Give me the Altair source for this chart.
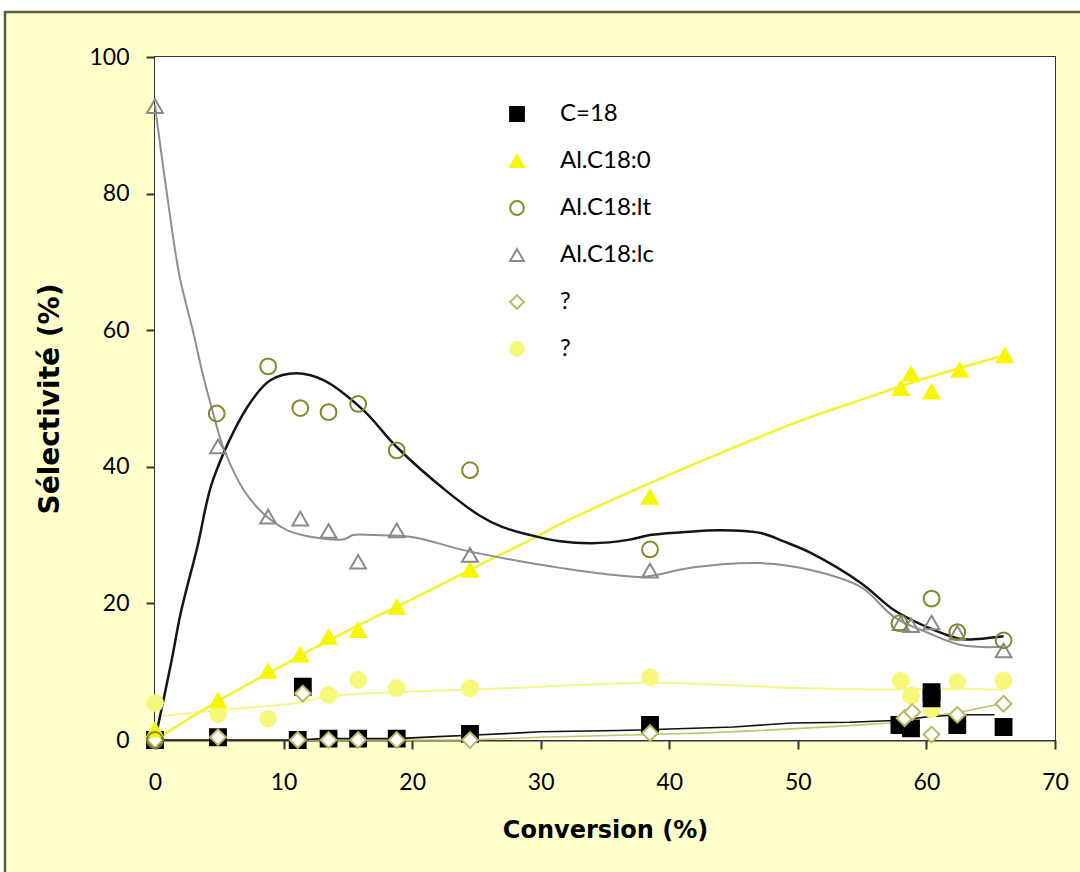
import altair as alt
import pandas as pd

# ---------------- data ----------------
SERIES = ["C=18", "Al.C18:0", "Al.C18:lt", "Al.C18:lc", "?1", "?2"]

# markers
c18_x = [0, 4.9, 11.1, 11.5, 13.5, 15.8, 18.8, 24.5, 38.5, 57.9, 58.8, 60.4, 60.4, 62.4, 66.0]
c18_y = [0, 0.4, 0, 7.8, 0.2, 0.2, 0.2, 0.9, 2.2, 2.2, 1.7, 6.1, 7.0, 2.2, 1.9]

c180_x = [0, 4.9, 8.8, 11.3, 13.5, 15.8, 18.8, 24.5, 38.5, 58.0, 58.8, 60.4, 62.6, 66.1]
c180_y = [1.5, 5.8, 10.1, 12.5, 15.1, 16.1, 19.5, 24.9, 35.6, 51.5, 53.6, 51.0, 54.2, 56.3]

lt_x = [0, 4.8, 8.8, 11.3, 13.5, 15.8, 18.8, 24.5, 38.5, 57.9, 60.4, 62.4, 66.0]
lt_y = [0, 47.8, 54.7, 48.6, 48.0, 49.2, 42.4, 39.5, 27.9, 17.1, 20.7, 15.8, 14.6]

lc_x = [0, 4.9, 8.8, 11.3, 13.5, 15.8, 18.8, 24.5, 38.5, 58.0, 58.8, 60.4, 62.4, 66.0]
lc_y = [92.8, 43.0, 32.7, 32.4, 30.6, 26.1, 30.7, 27.1, 24.8, 17.1, 16.8, 17.2, 15.7, 13.1]

dia_x = [0, 4.9, 11.1, 11.5, 13.5, 15.8, 18.8, 24.5, 38.5, 58.3, 58.9, 60.4, 62.4, 66.0]
dia_y = [0, 0.4, 0, 6.8, 0, 0, 0, 0, 1.0, 3.2, 4.1, 0.8, 3.7, 5.3]

ycir_x = [0, 4.9, 8.8, 13.5, 15.8, 18.8, 24.5, 38.5, 58.0, 58.8, 60.4, 62.4, 66.0]
ycir_y = [5.4, 3.8, 3.1, 6.6, 8.8, 7.6, 7.6, 9.2, 8.7, 6.5, 4.5, 8.5, 8.7]

# trend curves
t_lt_x = [0, 1.3, 2.0, 3.3, 4.5, 7.2, 9.0, 11.0, 13.1, 16.2, 18.8, 22.7, 25.3, 27.0, 29.2, 31.5,
          34.0, 36.8, 38.5, 41.0, 44.0, 47.1, 49.0, 51.0, 54.9, 57.5, 60.1, 62.7, 64.0, 66.0]
t_lt_y = [0, 11.7, 18.6, 28.3, 38.0, 48.8, 52.7, 53.7, 52.7, 48.3, 42.9, 36.4, 32.8, 31.2, 30.0, 29.1,
          28.8, 29.3, 30.0, 30.4, 30.7, 30.3, 29.0, 27.4, 23.0, 19.0, 16.5, 14.8, 14.8, 15.2]

t_lc_x = [0, 0.2, 1.0, 1.9, 3.0, 3.7, 4.5, 5.3, 6.9, 8.4, 10.3, 12.6, 14.7, 15.4, 17.0, 20.1, 24.0,
          29.2, 31.5, 35.0, 38.0, 41.9, 47.1, 51.0, 54.9, 57.5, 60.1, 62.7, 65.3, 66.0]
t_lc_y = [93.0, 90.0, 79.0, 68.0, 59.5, 53.7, 48.0, 42.9, 36.6, 33.2, 30.7, 29.6, 29.4, 30.0, 30.0, 29.7, 27.8,
          25.9, 25.2, 24.3, 23.9, 25.3, 25.9, 24.9, 22.4, 18.0, 15.7, 13.9, 13.6, 13.7]

t_c180_x = [0, 5, 10, 15, 20, 25, 29.2, 31.5, 38.5, 45, 50, 54.9, 60, 66]
t_c180_y = [0, 5.8, 11.0, 16.0, 20.6, 25.4, 29.3, 31.6, 37.6, 42.8, 46.6, 49.8, 53.0, 56.3]

t_ycir_x = [0, 5, 11, 13.6, 20, 25, 30, 38.5, 45, 50, 57, 62, 66]
t_ycir_y = [3.4, 4.4, 5.4, 6.4, 7.1, 7.4, 7.8, 8.4, 8.0, 7.6, 7.4, 7.5, 7.4]

t_c18_x = [0, 11.1, 13.0, 18.8, 22.0, 24.5, 28.0, 30.0, 36.0, 38.5, 40.0, 45.0, 49.5, 54.0, 58.0, 60.1, 62.7, 65.3]
t_c18_y = [0, 0, 0.2, 0.2, 0.5, 0.7, 1.0, 1.2, 1.4, 1.5, 1.6, 1.9, 2.5, 2.6, 2.9, 3.4, 3.7, 3.7]

t_dia_x = [0, 24.5, 30, 38.5, 42.4, 46, 50.2, 54, 57, 60, 62.7, 66]
t_dia_y = [0, 0, 0.4, 0.8, 1.0, 1.3, 1.7, 2.1, 2.5, 3.4, 4.1, 5.4]

# ---------------- build tables ----------------
# draw order of markers (bottom -> top)
marker_sets = [
    ("?2", ycir_x, ycir_y),
    ("C=18", c18_x, c18_y),
    ("?1", dia_x, dia_y),
    ("Al.C18:0", c180_x, c180_y),
    ("Al.C18:lc", lc_x, lc_y),
    ("Al.C18:lt", lt_x, lt_y),
]
rows = []
order = 0
for name, xs, ys in marker_sets:
    for xv, yv in zip(xs, ys):
        rows.append({"series": name, "x": xv, "y": yv, "o": order})
        order += 1
pts = pd.DataFrame(rows)

W, H = 900, 683
LEFT, TOP = 155, 57

xscale = alt.Scale(domain=[0, 70], nice=False, zero=False)
yscale = alt.Scale(domain=[0, 100], nice=False)

FONT = "Lato"
TFONT = "DejaVu Sans"

xaxis = alt.Axis(title="Conversion (%)", values=[0, 10, 20, 30, 40, 50, 60, 70], grid=False,
                 labelFontSize=23, labelFont=FONT, labelColor="#000", labelPadding=22,
                 labelFlush=False,
                 titleFontSize=24, titleFont=TFONT, titleFontWeight="bold", titleColor="#000",
                 titlePadding=24, domainColor="#333", domainWidth=2, tickColor="#333",
                 tickWidth=2, tickSize=9)
yaxis = alt.Axis(title="Sélectivité (%)", values=[0, 20, 40, 60, 80, 100], grid=False,
                 labelFontSize=23, labelFont=FONT, labelColor="#000", labelPadding=17,
                 labelFlush=False,
                 titleFontSize=28, titleFont=TFONT, titleFontWeight="bold", titleColor="#000",
                 titlePadding=24, domainColor="#333", domainWidth=2, tickColor="#333",
                 tickWidth=2, tickSize=9)

one = pd.DataFrame({"k": [0]})

# decorative outer frame
frame_white_top = alt.Chart(one).mark_rect(color="white").encode(
    x=alt.value(-LEFT), x2=alt.value(1080 - LEFT), y=alt.value(-TOP), y2=alt.value(-TOP + 11))
frame_white_left = alt.Chart(one).mark_rect(color="white").encode(
    x=alt.value(-LEFT), x2=alt.value(-LEFT + 4), y=alt.value(-TOP), y2=alt.value(872 - TOP))
frame_top = alt.Chart(one).mark_rule(color="#5c5c40", strokeWidth=2.5).encode(
    x=alt.value(-LEFT + 4), x2=alt.value(1080 - LEFT), y=alt.value(-TOP + 12))
frame_left = alt.Chart(one).mark_rule(color="#5c5c40", strokeWidth=2.5).encode(
    x=alt.value(-LEFT + 5), y=alt.value(-TOP + 11), y2=alt.value(872 - TOP))

plot_bg = alt.Chart(one).mark_rect(color="white").encode(
    x=alt.value(0), x2=alt.value(W), y=alt.value(0), y2=alt.value(H))

def trend(xs, ys, color, width, interp="catmull-rom"):
    d = pd.DataFrame({"x": xs, "y": ys})
    return alt.Chart(d).mark_line(color=color, strokeWidth=width, interpolate=interp).encode(
        x=alt.X("x:Q", scale=xscale, axis=xaxis),
        y=alt.Y("y:Q", scale=yscale, axis=yaxis),
    )

lines = [
    trend(t_ycir_x, t_ycir_y, "#F5F58C", 2),
    trend(t_c180_x, t_c180_y, "#F2F230", 2.5),
    trend(t_dia_x, t_dia_y, "#C4C46A", 1.6, "linear"),
    trend(t_c18_x, t_c18_y, "#111111", 1.6, "linear"),
    trend(t_lc_x, t_lc_y, "#8E8E8E", 2),
    trend(t_lt_x, t_lt_y, "#151515", 2.5),
]

shapes = ["square", "triangle-up", "circle", "triangle-up", "diamond", "circle"]
fills = ["#000000", "#F7F700", "transparent", "transparent", "#FFFFFF", "#F7F77A"]
strokes = ["#000000", "#F7F700", "#86862A", "#8A8A8A", "#B9B960", "#F7F77A"]

legend = alt.Legend(
    title=None, orient="none", legendX=350, legendY=45,
    labelFontSize=24, labelFont=FONT, labelColor="#000", labelOffset=31,
    symbolSize=190, symbolStrokeWidth=2, rowPadding=23,
    labelExpr="datum.label == '?1' || datum.label == '?2' ? '?' : datum.label",
)

points = alt.Chart(pts).mark_point(size=250, strokeWidth=2, opacity=1).encode(
    x=alt.X("x:Q", scale=xscale, axis=xaxis),
    y=alt.Y("y:Q", scale=yscale, axis=yaxis),
    shape=alt.Shape("series:N", scale=alt.Scale(domain=SERIES, range=shapes), legend=legend),
    fill=alt.Fill("series:N", scale=alt.Scale(domain=SERIES, range=fills), legend=legend),
    stroke=alt.Stroke("series:N", scale=alt.Scale(domain=SERIES, range=strokes), legend=legend),
    order=alt.Order("o:Q"),
)

chart = alt.layer(
    frame_white_top, frame_white_left, frame_top, frame_left, plot_bg,
    *lines, points,
).properties(
    width=W, height=H,
    background="#FFFFCC",
    padding={"left": LEFT, "top": TOP, "right": 1080 - LEFT - W, "bottom": 872 - TOP - H},
    autosize=alt.AutoSizeParams(type="none"),
).configure_view(
    stroke="#333333", strokeWidth=2, fill="white"
)

chart.save("out.html", embed_options={"renderer": "svg", "actions": False})
